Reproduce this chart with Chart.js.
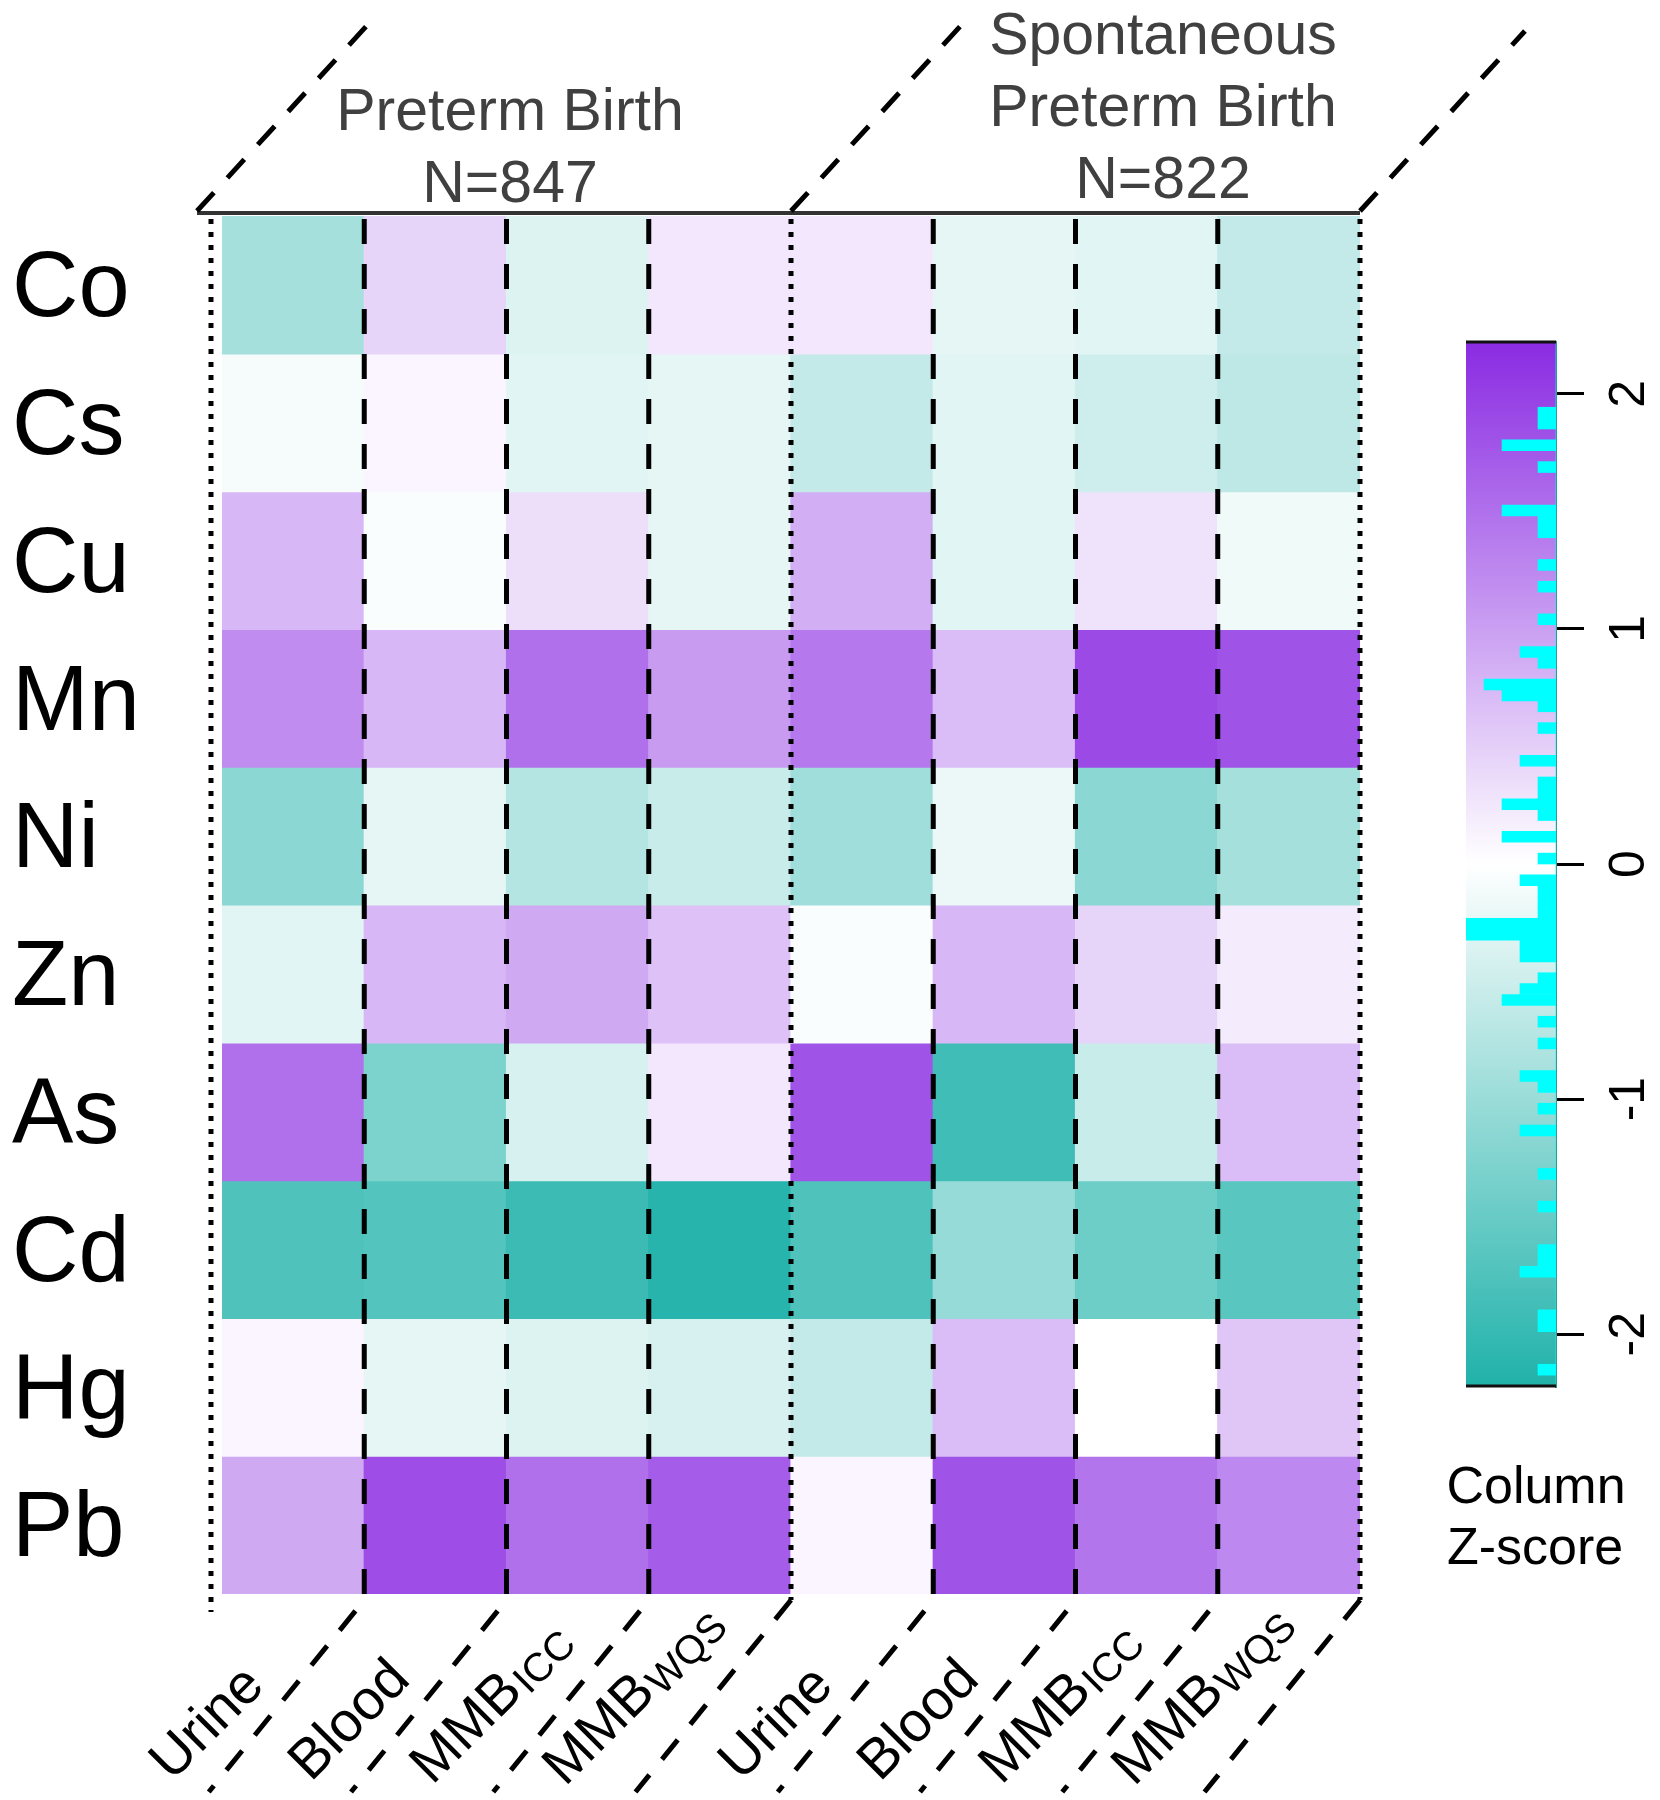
<!DOCTYPE html>
<html lang="en">
  <head>
    <meta charset="UTF-8" />
    <title>Column Z-score heatmap</title>
    <script src="https://cdn.jsdelivr.net/npm/chart.js@4.4.1/dist/chart.umd.min.js"></script>
    <style>
      body { margin: 0; background: #fff; }
      .wrapper { position: relative; width: 1660px; height: 1800px; }
      #heat { position: absolute; left: 0; top: 0; }
      #key { position: absolute; left: 1440px; top: 300px; }
    </style>
  </head>
  <body>
    <div class="wrapper">
      <canvas id="heat" width="1660" height="1800"></canvas>
      <canvas id="key" width="220" height="1120"></canvas>
    </div>
    <script>
      /** data (column z-scores, rows top to bottom) */
      const elements = ["Co", "Cs", "Cu", "Mn", "Ni", "Zn", "As", "Cd", "Hg", "Pb"];
      const sampleNames = ["Urine", "Blood", "MMB", "MMB", "Urine", "Blood", "MMB", "MMB"];
      const sampleSubs = ["", "", "ICC", "WQS", "", "", "ICC", "WQS"];
      const groupTitles = [
        ["Preterm Birth", "N=847"],
        ["Spontaneous", "Preterm Birth", "N=822"],
      ];

      const ptbUrine = [-0.9, -0.1, 0.75, 1.2, -1.15, -0.3, 1.5, -1.75, 0.1, 0.9];
      const ptbBlood = [0.45, 0.1, -0.05, 0.75, -0.25, 0.75, -1.3, -1.7, -0.25, 1.85];
      const ptbIcc = [-0.35, -0.3, 0.35, 1.5, -0.75, 0.9, -0.4, -1.95, -0.35, 1.5];
      const ptbWqs = [0.25, -0.25, -0.25, 1.05, -0.55, 0.65, 0.25, -2.15, -0.4, 1.7];
      const sptbUrine = [0.25, -0.6, 0.85, 1.4, -0.95, -0.05, 1.8, -1.75, -0.6, 0.1];
      const sptbBlood = [-0.25, -0.3, -0.3, 0.7, -0.2, 0.75, -1.9, -1.05, 0.7, 1.8];
      const sptbIcc = [-0.3, -0.5, 0.3, 1.9, -1.15, 0.45, -0.55, -1.45, 0.0, 1.45];
      const sptbWqs = [-0.6, -0.65, -0.15, 1.8, -0.9, 0.2, 0.7, -1.65, 0.6, 1.25];

      const keyLimit = 2.22;
      const keyTicks = [-2, -1, 0, 1, 2];

      const columns = [ptbUrine, ptbBlood, ptbIcc, ptbWqs, sptbUrine, sptbBlood, sptbIcc, sptbWqs];
      const columnKeys = ["PTB Urine", "PTB Blood", "PTB ICC", "PTB WQS", "SPTB Urine", "SPTB Blood", "SPTB ICC", "SPTB WQS"];

      const FONT = "'Liberation Sans', Arial, Helvetica, sans-serif";
      Chart.defaults.font.family = FONT;

      const teal = [32, 178, 170];
      const violet = [138, 43, 226];
      function zColor(z) {
        const t = Math.min(Math.abs(z) / keyLimit, 1);
        const end = z < 0 ? teal : violet;
        const c = end.map((v) => Math.round(255 + (v - 255) * t));
        return "rgb(" + c[0] + "," + c[1] + "," + c[2] + ")";
      }

      /** heatmap: one stacked bar segment per element */
      const heatSets = elements.map((el, r) => ({
        label: el,
        data: columns.map(() => 1),
        backgroundColor: columns.map((col) => zColor(col[r])),
        borderWidth: 0,
        barPercentage: 1,
        categoryPercentage: 1,
        inflateAmount: 0.6,
      }));

      function strokePath(ctx, pts, dash, width) {
        ctx.beginPath();
        ctx.setLineDash(dash);
        ctx.lineWidth = width;
        ctx.moveTo(pts[0][0], pts[0][1]);
        for (let i = 1; i < pts.length; i++) ctx.lineTo(pts[i][0], pts[i][1]);
        ctx.stroke();
      }

      const heatDecor = {
        id: "heatDecor",
        afterDraw(chart) {
          const ctx = chart.ctx;
          const area = chart.chartArea;
          const xs = chart.scales.x;
          const edge = (k) => xs.getPixelForValue(k - 0.5);
          const topSlope = 1 / Math.tan((47.5 * Math.PI) / 180);
          const lowSlope = 1 / Math.tan((51 * Math.PI) / 180);
          const dashed = [25, 20];
          const dotted = [5, 8];
          ctx.save();
          ctx.lineCap = "butt";

          // header bar and slanted lines
          ctx.strokeStyle = "#333";
          strokePath(ctx, [[area.left - 25, area.top - 3], [area.right, area.top - 3]], [], 4);
          ctx.strokeStyle = "#000";
          const tops = [[area.left - 25, 20], [edge(4), 20], [edge(8), 31]];
          tops.forEach(([x0, yEnd]) => {
            const y0 = area.top - 5;
            strokePath(ctx, [[x0, y0], [x0 + (y0 - yEnd) * topSlope, yEnd]], dashed, 5);
          });

          // header titles
          ctx.fillStyle = "#404040";
          ctx.font = "59px " + FONT;
          ctx.textAlign = "center";
          ctx.textBaseline = "middle";
          const headerX = [510, 1163];
          const headerY = [[114, 186], [38, 110, 182]];
          groupTitles.forEach((lines, g) => {
            lines.forEach((t, i) => ctx.fillText(t, headerX[g], headerY[g][i]));
          });

          // separators
          const yEnd = 1792;
          strokePath(ctx, [[area.left - 11, area.top + 3], [area.left - 11, area.bottom + 18]], dotted, 5);
          for (let k = 1; k <= columns.length; k++) {
            const xb = edge(k);
            const yb = area.bottom + 6;
            const tail = [xb - (yEnd - yb) * lowSlope, yEnd];
            if (k === 4 || k === 8) {
              strokePath(ctx, [[xb, area.top + 3], [xb, yb]], dotted, 5);
              strokePath(ctx, [[xb, yb], tail], dashed, 5);
            } else {
              strokePath(ctx, [[xb, area.top + 3], [xb, yb], tail], dashed, 5);
            }
          }

          // column labels, slanted, with subscripts
          ctx.setLineDash([]);
          ctx.fillStyle = "#000";
          ctx.textAlign = "left";
          ctx.textBaseline = "middle";
          const big = "56px " + FONT;
          const small = "40px " + FONT;
          ctx.font = big;
          const refWidth = ctx.measureText(sampleNames[0]).width;
          sampleNames.forEach((name, k) => {
            ctx.font = big;
            const w1 = ctx.measureText(name).width;
            ctx.font = small;
            const w2 = sampleSubs[k] ? ctx.measureText(sampleSubs[k]).width + 2 : 0;
            const lift = 0.3 * (w1 + w2 - refWidth);
            const cx = xs.getPixelForValue(k) - 85;
            const cy = 1724 - lift;
            ctx.save();
            ctx.translate(cx, cy);
            ctx.rotate((-45 * Math.PI) / 180);
            const x0 = -(w1 + w2) / 2;
            ctx.font = big;
            ctx.fillText(name, x0, 0);
            if (sampleSubs[k]) {
              ctx.font = small;
              ctx.fillText(sampleSubs[k], x0 + w1 + 2, 9);
            }
            ctx.restore();
          });

          // key caption
          ctx.font = "52px " + FONT;
          ctx.textAlign = "center";
          ctx.fillText("Column", 1536, 1489);
          ctx.fillText("Z-score", 1535, 1550);
          ctx.restore();
        },
      };

      new Chart("heat", {
        type: "bar",
        data: { labels: columnKeys, datasets: heatSets },
        options: {
          responsive: false,
          animation: false,
          layout: { padding: { left: 12, top: 216, right: 300, bottom: 206 } },
          plugins: { legend: { display: false }, tooltip: { enabled: false } },
          scales: {
            x: { stacked: true, display: false },
            y: {
              stacked: true,
              reverse: true,
              min: 0,
              max: elements.length,
              grid: { display: false },
              border: { display: false },
              afterBuildTicks: (scale) => {
                scale.ticks = elements.map((e, i) => ({ value: i + 0.5 }));
              },
              afterFit: (scale) => {
                scale.width = 210;
              },
              ticks: {
                autoSkip: false,
                crossAlign: "far",
                labelOffset: 6,
                color: "#000",
                font: { size: 92 },
                callback: (v, i) => elements[i],
              },
            },
          },
        },
        plugins: [heatDecor],
      });

      /** colour key with histogram of the z-scores */
      const binCount = 96;
      const binSize = (2 * keyLimit) / binCount;
      const counts = new Array(binCount).fill(0);
      columns.flat().forEach((z) => {
        const b = Math.max(0, Math.min(binCount - 1, Math.floor((z + keyLimit) / binSize)));
        counts[b] += 1;
      });
      const histData = counts.map((c, i) => ({ x: c, y: -keyLimit + (i + 0.5) * binSize }));

      const keyDecor = {
        id: "keyDecor",
        beforeDatasetsDraw(chart) {
          const ctx = chart.ctx;
          const a = chart.chartArea;
          const ys = chart.scales.y;
          const g = ctx.createLinearGradient(0, ys.getPixelForValue(-keyLimit), 0, ys.getPixelForValue(keyLimit));
          g.addColorStop(0, zColor(-keyLimit));
          g.addColorStop(0.5, zColor(0));
          g.addColorStop(1, zColor(keyLimit));
          ctx.save();
          ctx.fillStyle = g;
          ctx.fillRect(a.left, a.top, a.right - a.left, a.bottom - a.top);
          ctx.restore();
        },
        afterDraw(chart) {
          const ctx = chart.ctx;
          const a = chart.chartArea;
          const ys = chart.scales.y;
          ctx.save();
          ctx.strokeStyle = "#111";
          ctx.lineWidth = 3;
          ctx.beginPath();
          ctx.moveTo(a.left, a.top);
          ctx.lineTo(a.right, a.top);
          ctx.moveTo(a.left, a.bottom);
          ctx.lineTo(a.right, a.bottom);
          ctx.stroke();
          ctx.fillStyle = "#000";
          ctx.font = "50px " + FONT;
          ctx.textAlign = "center";
          ctx.textBaseline = "middle";
          ys.ticks.forEach((t) => {
            ctx.save();
            ctx.translate(190, ys.getPixelForValue(t.value));
            ctx.rotate(-Math.PI / 2);
            ctx.fillText(String(t.value), 0, 0);
            ctx.restore();
          });
          ctx.restore();
        },
      };

      new Chart("key", {
        type: "bar",
        data: {
          datasets: [
            {
              label: "Count",
              data: histData,
              backgroundColor: "#00ffff",
              borderWidth: 0,
              barPercentage: 1,
              categoryPercentage: 1,
            },
          ],
        },
        options: {
          indexAxis: "y",
          responsive: false,
          animation: false,
          layout: { padding: { left: 26, top: 42, right: 0, bottom: 34 } },
          plugins: { legend: { display: false }, tooltip: { enabled: false } },
          scales: {
            x: { type: "linear", reverse: true, min: 0, max: Math.max(...counts), display: false },
            y: {
              type: "linear",
              position: "right",
              offset: false,
              min: -keyLimit,
              max: keyLimit,
              afterBuildTicks: (scale) => {
                scale.ticks = keyTicks.map((v) => ({ value: v }));
              },
              afterFit: (scale) => {
                scale.width = 104;
              },
              grid: { offset: false, drawOnChartArea: false, color: "#000", lineWidth: 3, tickLength: 28 },
              border: { color: "#2a9d96", width: 2 },
              ticks: { display: false },
            },
          },
        },
        plugins: [keyDecor],
      });
    </script>
  </body>
</html>
